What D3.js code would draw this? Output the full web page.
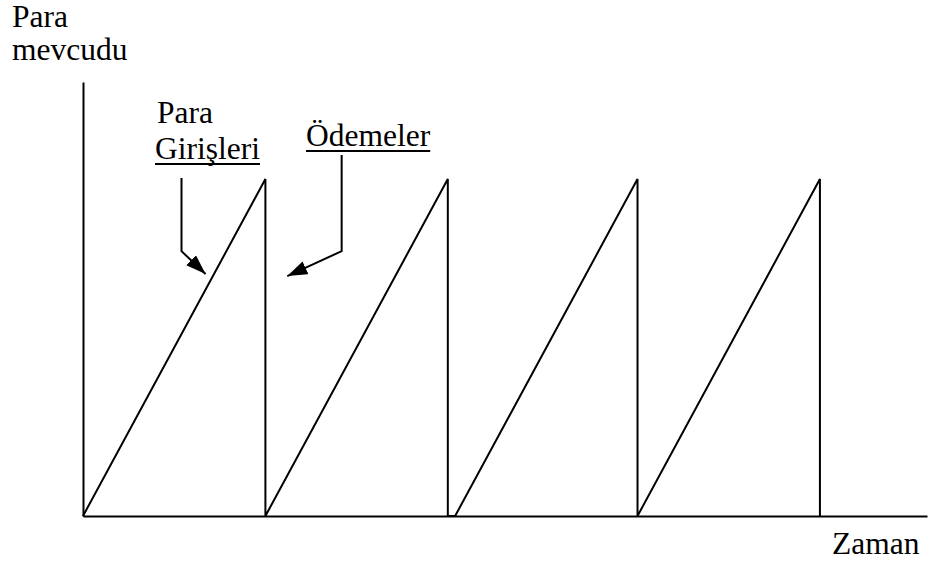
<!DOCTYPE html>
<html>
<head>
<meta charset="utf-8">
<script src="https://cdn.jsdelivr.net/npm/d3@7"></script>
<style>
  html, body { margin: 0; padding: 0; background: #fff; }
  svg { display: block; }
</style>
</head>
<body>
<svg id="chart" width="928" height="562"></svg>
<script>
// ---- data (time in cycle units, money level relative to peak) ----
const cycleStart = [0, 1, 2.04, 3.04];
const cyclePeak  = [1, 2, 3.04, 4.04];
const peakLevel  = [1, 1, 1, 1];
const axisLabels = ["Para", "mevcudu", "Zaman"];
const annotations = ["Para", "Girişleri", "Ödemeler"];
// annotation arrow paths in data units: [t, level]
const arrowInflow  = [[0.54, 1.003], [0.54, 0.786], [0.672, 0.718]];
const arrowOutflow = [[1.418, 1.071], [1.418, 0.786], [1.12, 0.712]];

const W = 928, H = 562;
const margin = { left: 83, right: 1, top: 82, bottom: 46 };
const svg = d3.select("#chart");
const FONT = "'Liberation Serif', 'Times New Roman', Tinos, 'DejaVu Serif', serif";

const x = d3.scaleLinear().domain([0, 4.627]).range([margin.left, W - margin.right]);
const y = d3.scaleLinear().domain([0, 1.288]).range([H - margin.bottom, margin.top]);

// axes (plain lines, no ticks)
const xAxis = d3.axisBottom(x).tickValues([]).tickSizeOuter(0);
const yAxis = d3.axisLeft(y).tickValues([]).tickSizeOuter(0);
svg.append("g").attr("transform", `translate(0,${y(0)})`).call(xAxis)
  .select(".domain").attr("stroke", "#000").attr("stroke-width", 2);
svg.append("g").attr("transform", `translate(${x(0)},0)`).call(yAxis)
  .select(".domain").attr("stroke", "#000").attr("stroke-width", 2);

// sawtooth
const pts = [];
cycleStart.forEach((s, i) => {
  pts.push([s, 0]);
  pts.push([cyclePeak[i], peakLevel[i]]);
  pts.push([cyclePeak[i], 0]);
});
const line = d3.line().x(d => x(d[0])).y(d => y(d[1]));
svg.append("path").datum(pts)
  .attr("d", line)
  .attr("fill", "none").attr("stroke", "#000").attr("stroke-width", 2)
  .attr("stroke-linejoin", "miter");

// arrowhead marker
svg.append("defs").append("marker")
  .attr("id", "arrow").attr("viewBox", "0 0 10 7")
  .attr("refX", 10).attr("refY", 3.5)
  .attr("markerWidth", 10).attr("markerHeight", 7)
  .attr("markerUnits", "strokeWidth")
  .attr("orient", "auto")
  .append("path").attr("d", "M0,0L10,3.5L0,7Z").attr("fill", "#000");

[arrowInflow, arrowOutflow].forEach(a => {
  svg.append("path").datum(a)
    .attr("d", line)
    .attr("fill", "none").attr("stroke", "#000").attr("stroke-width", 2)
    .attr("marker-end", "url(#arrow)");
});

// texts
const fs = 31.5;
function label(txt, px, py, underline) {
  const t = svg.append("text").attr("x", px).attr("y", py)
    .attr("font-family", FONT)
    .attr("font-size", fs).attr("fill", "#000").text(txt);
  if (underline) {
    const w = t.node().getComputedTextLength();
    svg.append("line").attr("x1", px).attr("x2", px + w)
      .attr("y1", py + 5).attr("y2", py + 5)
      .attr("stroke", "#000").attr("stroke-width", 2);
  }
}
label(axisLabels[0], 12, 27, false);
label(axisLabels[1], 12, 60, false);
label(axisLabels[2], 832, 554, false);
label(annotations[0], 157, 123, false);
label(annotations[1], 155, 159, true);
label(annotations[2], 306, 146, true);
</script>
</body>
</html>
